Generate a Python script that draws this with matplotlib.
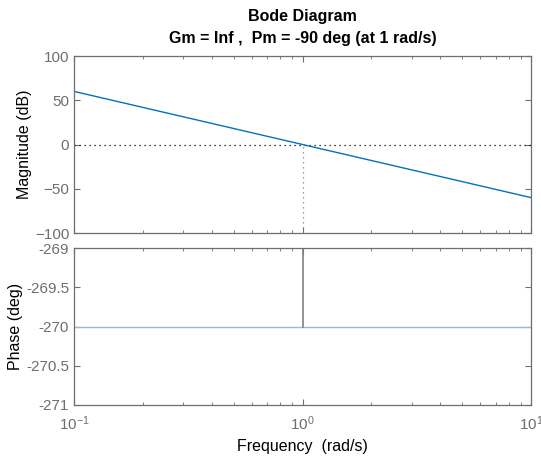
import matplotlib.pyplot as plt
from matplotlib.ticker import LogLocator, FixedLocator

plt.rcParams['font.family'] = ['Liberation Sans', 'DejaVu Sans']

# Data
freq = [0.1, 1, 10]
mag_db = [60, 0, -60]
phase_deg = [-270, -270, -270]
wc = 1            # crossover frequency (rad/s)
pm_top = -269     # phase margin marker end

mag_ticks = [-100, -50, 0, 50, 100]
phase_ticks = [-271, -270.5, -270, -269.5, -269]
phase_labels = ['-271', '-270.5', '-270', '-269.5', '-269']

blue = '#0072BD'
grey = '#808080'
tick_grey = '#6e6e6e'

fig = plt.figure(figsize=(5.41, 4.59), dpi=100)
ax1 = fig.add_axes([74 / 541, 1 - 233 / 459, 457 / 541, 177 / 459])
ax2 = fig.add_axes([74 / 541, 1 - 405 / 459, 457 / 541, 157 / 459])

# Magnitude
ax1.axhline(0, color='black', linestyle=(0, (1, 3)), linewidth=0.9)
ax1.plot([wc, wc], [-100, 0], color=grey, linestyle=(0, (1, 3)), linewidth=0.9)
ax1.plot(freq, mag_db, color=blue, linewidth=1.0)
ax1.set_ylim(-100, 100)
ax1.set_yticks(mag_ticks)
ax1.set_ylabel('Magnitude (dB)', fontsize=11.5, labelpad=2)

# Phase
ax2.plot(freq, phase_deg, color='#8cbfe0', linewidth=1.0)
ax2.plot([wc, wc], [-270, pm_top], color=grey, linewidth=1.2)
ax2.set_ylim(-271, -269)
ax2.yaxis.set_major_locator(FixedLocator(phase_ticks))
ax2.set_yticklabels(phase_labels)
ax2.set_ylabel('Phase (deg)', fontsize=11.5, labelpad=2)
ax2.set_xlabel('Frequency  (rad/s)', fontsize=11.5, labelpad=4)

for ax in (ax1, ax2):
    ax.set_xscale('log')
    ax.set_xlim(0.1, 10)
    ax.xaxis.set_major_locator(LogLocator(base=10))
    ax.xaxis.set_minor_locator(LogLocator(base=10, subs=range(2, 10)))
    ax.tick_params(which='both', direction='in', top=True, right=True,
                   colors=tick_grey, labelsize=11)
    ax.tick_params(which='major', length=4)
    ax.tick_params(which='minor', length=2)
    for s in ax.spines.values():
        s.set_color(tick_grey)
        s.set_linewidth(0.9)

ax1.tick_params(axis='x', labelbottom=False)
ax2.tick_params(axis='x', pad=7)

cx = 302.5 / 541
fig.text(cx, 1 - 17 / 459, 'Bode Diagram', ha='center', va='center',
         fontsize=11.5, fontweight='bold')
fig.text(cx, 1 - 38 / 459, 'Gm = Inf ,  Pm = -90 deg (at 1 rad/s)',
         ha='center', va='center', fontsize=11.5, fontweight='bold')

plt.savefig('out.png', dpi=100)
plt.close()
